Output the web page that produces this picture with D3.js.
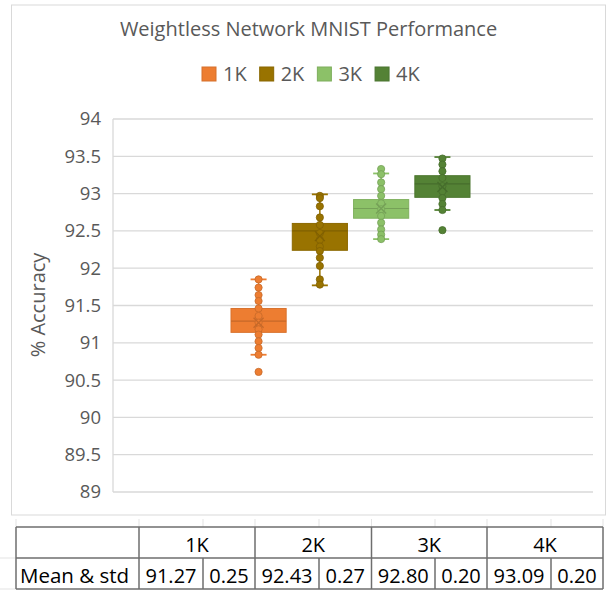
<!DOCTYPE html>
<html lang="en">
<head>
<meta charset="UTF-8">
<title>Weightless Network MNIST Performance</title>
<style>
  body { margin: 0; background: #fff; }
  svg text { font-family: "Open Sans", sans-serif; }
  .y-axis text { font-size: 18.5px; fill: #595959; }
</style>
</head>
<body>
<svg id="chart" width="608" height="591"></svg>

<script src="https://cdn.jsdelivr.net/npm/d3@7"></script>
<script>
// data
const series = ["1K", "2K", "3K", "4K"];
const colors = ["#ED7D31", "#997300", "#8CC168", "#548235"];

const whiskerLow  = [90.84, 91.77, 92.39, 92.78];
const q1          = [91.14, 92.24, 92.67, 92.95];
const median      = [91.29, 92.50, 92.80, 93.13];
const q3          = [91.46, 92.60, 92.92, 93.24];
const whiskerHigh = [91.85, 92.99, 93.27, 93.49];
const means       = [91.27, 92.43, 92.80, 93.09];
const stds        = [0.25, 0.27, 0.20, 0.20];

const points1K = [91.85, 91.74, 91.64, 91.56, 91.46, 91.36, 91.27, 91.18, 91.11, 91.02, 90.93, 90.84, 90.61];
const points2K = [92.97, 92.94, 92.83, 92.68, 92.58, 92.47, 92.38, 92.29, 92.23, 92.14, 92.03, 91.85, 91.78];
const points3K = [93.33, 93.26, 93.15, 93.06, 92.97, 92.87, 92.79, 92.70, 92.61, 92.52, 92.45, 92.39];
const points4K = [93.47, 93.39, 93.30, 93.21, 93.10, 93.03, 92.94, 92.86, 92.78, 92.51];
const pointsBySeries = [points1K, points2K, points3K, points4K];

const yTicks = [89, 89.5, 90, 90.5, 91, 91.5, 92, 92.5, 93, 93.5, 94];

const svg = d3.select("#chart");

// chart frame
svg.append("rect")
    .attr("x", 11.5).attr("y", 5)
    .attr("width", 594).attr("height", 510)
    .attr("fill", "#fff").attr("stroke", "#d9d9d9");

// title
svg.append("text")
    .attr("x", 308.5).attr("y", 36)
    .attr("text-anchor", "middle")
    .style("font-size", "20px")
    .attr("fill", "#595959")
    .text("Weightless Network MNIST Performance");

// legend
const legend = svg.append("g").attr("transform", "translate(202,67)");
let lx = 0;
series.forEach(function(s, i) {
    const item = legend.append("g").attr("transform", "translate(" + lx + ",0)");
    item.append("rect").attr("width", 14).attr("height", 14)
        .attr("fill", colors[i]).attr("stroke", d3.color(colors[i]).darker(0.3));
    const t = item.append("text").attr("x", 21).attr("y", 14)
        .style("font-size", "20px").attr("fill", "#595959").text(s);
    lx += 21 + t.node().getComputedTextLength() + 13;
});

// scales
const y = d3.scaleLinear().domain([89, 94]).range([492, 119]);
const xCat = d3.scaleBand().domain(["MNIST"]).range([113, 593]).paddingOuter(0.5);
const xs = d3.scaleBand().domain(series)
    .range([xCat("MNIST") - 2, xCat("MNIST") + xCat.bandwidth() - 3])
    .paddingInner(0.1);

// gridlines + axis
svg.append("g").selectAll("line").data(yTicks).enter().append("line")
    .attr("x1", 113).attr("x2", 593)
    .attr("y1", function(d){ return y(d); })
    .attr("y2", function(d){ return y(d); })
    .attr("stroke", "#d9d9d9").attr("stroke-width", 1.3);

svg.append("line")
    .attr("x1", 113).attr("x2", 113)
    .attr("y1", y(94)).attr("y2", y(89))
    .attr("stroke", "#d9d9d9").attr("stroke-width", 1.3);

const yAxis = svg.append("g")
    .attr("class", "y-axis")
    .attr("transform", "translate(113,0)")
    .call(d3.axisLeft(y).tickValues(yTicks).tickSize(0).tickPadding(12)
        .tickFormat(function(d){ return String(d); }));
yAxis.attr("font-size", 18.5).attr("font-family", "'Open Sans', sans-serif");
yAxis.select(".domain").remove();

svg.append("text")
    .attr("transform", "translate(45,305) rotate(-90)")
    .attr("text-anchor", "middle")
    .style("font-size", "20px")
    .attr("fill", "#595959")
    .text("% Accuracy");

// boxes
series.forEach(function(s, i) {
    const g = svg.append("g");
    const c = colors[i];
    const dark = d3.color(c).darker(0.5);
    const cx = xs(s) + xs.bandwidth() / 2;

    g.append("line")
        .attr("x1", cx).attr("x2", cx)
        .attr("y1", y(whiskerHigh[i])).attr("y2", y(whiskerLow[i]))
        .attr("stroke", c).attr("stroke-width", 1.5);
    [whiskerHigh[i], whiskerLow[i]].forEach(function(v) {
        g.append("line")
            .attr("x1", cx - 8).attr("x2", cx + 8)
            .attr("y1", y(v)).attr("y2", y(v))
            .attr("stroke", c).attr("stroke-width", 1.8);
    });

    g.append("rect")
        .attr("x", xs(s)).attr("width", xs.bandwidth())
        .attr("y", y(q3[i])).attr("height", y(q1[i]) - y(q3[i]))
        .attr("fill", c).attr("stroke", d3.color(c).darker(0.25)).attr("stroke-width", 1);

    g.append("line")
        .attr("x1", xs(s)).attr("x2", xs(s) + xs.bandwidth())
        .attr("y1", y(median[i])).attr("y2", y(median[i]))
        .attr("stroke", dark).attr("stroke-width", 1.2);

    g.selectAll("circle").data(pointsBySeries[i]).enter().append("circle")
        .attr("cx", cx)
        .attr("cy", function(d){ return y(d); })
        .attr("r", 3.6)
        .attr("fill", c)
        .attr("stroke", dark).attr("stroke-width", 0.8);

    const my = y(means[i]);
    g.append("path")
        .attr("d", "M" + (cx - 5) + "," + (my - 5) + "L" + (cx + 5) + "," + (my + 5) +
                   "M" + (cx + 5) + "," + (my - 5) + "L" + (cx - 5) + "," + (my + 5))
        .attr("stroke", dark).attr("stroke-width", 1.4).attr("fill", "none");
});

// table below the chart
const colEdges = [16, 139, 203, 255, 319, 371.5, 435, 487, 551, 603];
const rowTop = 527, rowMid = 558, rowBot = 589;
const tbl = svg.append("g");

// faint sheet gridlines
tbl.selectAll(".faint").data(colEdges).enter().append("line")
    .attr("x1", function(d){ return d; }).attr("x2", function(d){ return d; })
    .attr("y1", 519).attr("y2", rowTop)
    .attr("stroke", "#e3e3e3");
[rowMid, rowBot].forEach(function(yy) {
    tbl.append("line").attr("x1", 0).attr("x2", 16).attr("y1", yy).attr("y2", yy)
        .attr("stroke", "#e3e3e3");
});

const lineColor = "#6e6e6e";
[rowTop, rowMid, rowBot].forEach(function(yy) {
    tbl.append("line").attr("x1", 16).attr("x2", 603).attr("y1", yy).attr("y2", yy)
        .attr("stroke", lineColor).attr("stroke-width", 1.5);
});
colEdges.forEach(function(xx, k) {
    // header cells are merged over the mean/std pair
    const top = (k === 0 || k % 2 === 1) ? rowTop : rowMid;
    tbl.append("line").attr("x1", xx).attr("x2", xx).attr("y1", top).attr("y2", rowBot)
        .attr("stroke", lineColor).attr("stroke-width", 1.5);
});

series.forEach(function(s, i) {
    const a = colEdges[1 + 2 * i], b = colEdges[3 + 2 * i];
    tbl.append("text").attr("x", (a + b) / 2).attr("y", 551.5)
        .attr("text-anchor", "middle").style("font-size", "20px").attr("fill", "#000").text(s);
    const vals = [means[i].toFixed(2), stds[i].toFixed(2)];
    vals.forEach(function(v, j) {
        const l = colEdges[1 + 2 * i + j], r = colEdges[2 + 2 * i + j];
        tbl.append("text").attr("x", (l + r) / 2).attr("y", 583)
            .attr("text-anchor", "middle").style("font-size", "20px").attr("fill", "#000").text(v);
    });
});
tbl.append("text").attr("x", 20).attr("y", 583)
    .style("font-size", "20.5px").attr("fill", "#000").text("Mean & std");
</script>
</body>
</html>
